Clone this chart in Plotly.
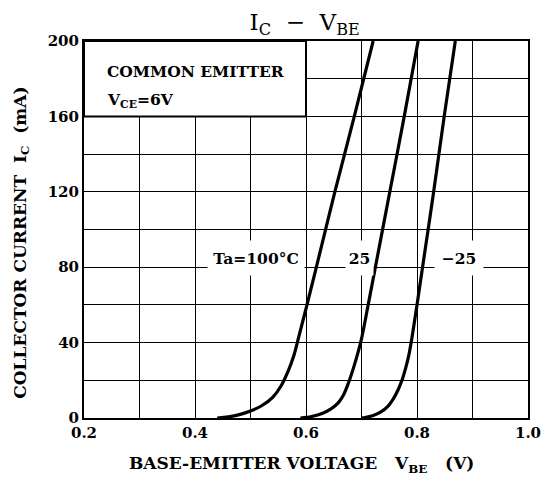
import plotly.graph_objects as go

# Data (VBE in V, IC in mA)
v_100 = [0.44, 0.46, 0.48, 0.50, 0.52, 0.54, 0.555, 0.568, 0.578, 0.586, 0.600, 0.617, 0.652, 0.687, 0.721]
i_100 = [0, 0.6, 1.8, 3.7, 6.5, 11, 17, 25, 33, 42, 58, 78, 120, 160, 200]
v_25 = [0.59, 0.61, 0.63, 0.645, 0.658, 0.668, 0.677, 0.686, 0.693, 0.700, 0.712, 0.725, 0.751, 0.777, 0.802]
i_25 = [0, 0.8, 2.5, 4.8, 8, 12.5, 19, 27, 34, 42, 60, 80, 120, 160, 200]
v_m25 = [0.70, 0.72, 0.735, 0.747, 0.757, 0.766, 0.774, 0.780, 0.785, 0.790, 0.800, 0.810, 0.830, 0.849, 0.869]
i_m25 = [0, 1.2, 3.2, 6, 10, 15, 21, 27, 33, 41, 60, 80, 120, 160, 200]

x_ticks = [0.2, 0.4, 0.6, 0.8, 1.0]
y_ticks = [0, 40, 80, 120, 160, 200]

FONT = "DejaVu Serif"

fig = go.Figure()
for vx, iy in [(v_100, i_100), (v_25, i_25), (v_m25, i_m25)]:
    fig.add_trace(go.Scatter(x=vx, y=iy, mode="lines",
                             line=dict(color="black", width=3.2, shape="spline", smoothing=1.0),
                             showlegend=False, hoverinfo="skip"))

# page has an 8px body margin: figure is sized/margined to compensate
fig.update_layout(
    width=545, height=475,
    margin=dict(l=76, r=12, t=33, b=65),
    paper_bgcolor="white", plot_bgcolor="white",
    font=dict(family=FONT, color="black"),
    title=dict(text="I<sub>C</sub>  −  V<sub>BE</sub>", xref="paper", x=0.497, xanchor="center",
               yref="container", y=1 - 14 / 475, yanchor="middle", font=dict(size=23, family=FONT)),
)
fig.update_xaxes(range=[0.2, 1.0], tickvals=x_ticks, ticktext=[f"<b>{t:.1f}</b>" for t in x_ticks],
                 showgrid=True, gridcolor="black", gridwidth=1.3,
                 minor=dict(dtick=0.1, showgrid=True, gridcolor="black", gridwidth=1.3),
                 showline=True, linecolor="black", linewidth=2, mirror=True,
                 ticks="", tickfont=dict(size=15, family=FONT), zeroline=False)
fig.update_yaxes(range=[0, 200], tickvals=y_ticks, ticktext=[f"<b>{t}</b>" for t in y_ticks],
                 showgrid=True, gridcolor="black", gridwidth=1.3,
                 minor=dict(dtick=20, showgrid=True, gridcolor="black", gridwidth=1.3),
                 showline=True, linecolor="black", linewidth=2, mirror=True,
                 ticks="", tickfont=dict(size=15, family=FONT), zeroline=False)

# blank box for the condition text
fig.add_shape(type="rect", xref="x", yref="y", x0=0.2, x1=0.6, y0=160, y1=200,
              fillcolor="white", line=dict(color="black", width=2), layer="above")

ann = [
    dict(text="<b>COMMON EMITTER</b>", x=0.240, y=183.6, xanchor="left", yanchor="middle"),
    dict(text="<b>V<sub>CE</sub>=6V</b>", x=0.240, y=168.5, xanchor="left", yanchor="middle"),
    dict(text="<b>Ta=100°C</b>", x=0.510, y=85, width=96, height=34, bgcolor="white",
         xanchor="center", yanchor="middle"),
    dict(text="<b>25</b>", x=0.697, y=85, width=27, height=34, bgcolor="white",
         xanchor="center", yanchor="middle"),
    dict(text="<b>−25</b>", x=0.875, y=85, width=48, height=34, bgcolor="white",
         xanchor="center", yanchor="middle"),
]
for a in ann:
    fig.add_annotation(xref="x", yref="y", showarrow=False, borderpad=0,
                       font=dict(size=15.5, family=FONT, color="black"), **a)

fig.add_annotation(text="<b>COLLECTOR CURRENT  I<sub>C</sub>  (mA)</b>", xref="paper", yref="paper",
                   x=(20 - 84) / 457, y=(418 - 243) / 377, textangle=-90, showarrow=False,
                   xanchor="center", yanchor="middle", font=dict(size=17, family=FONT))
fig.add_annotation(text="<b>BASE-EMITTER VOLTAGE   V<sub>BE</sub>   (V)</b>", xref="paper", yref="paper",
                   x=(308 - 84) / 457, y=(418 - 464) / 377, showarrow=False,
                   xanchor="center", yanchor="middle", font=dict(size=17, family=FONT))

fig.write_html("out.html")
